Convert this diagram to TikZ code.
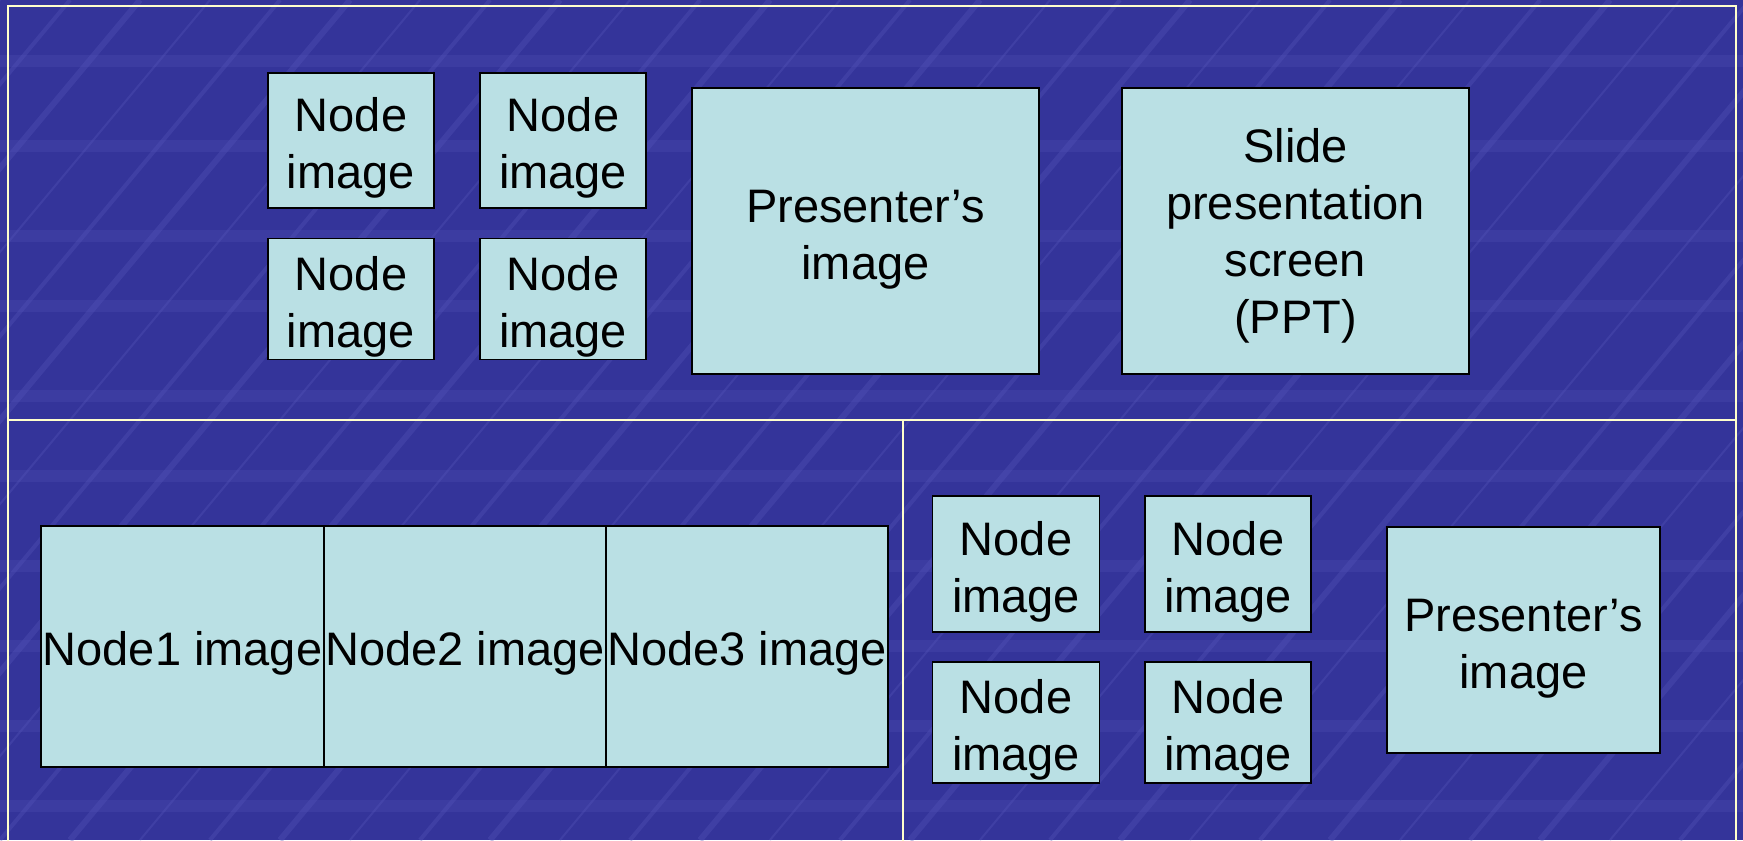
\documentclass[tikz,border=0pt]{standalone}
\usepackage{fontspec}
\setmainfont{Liberation Sans}
\definecolor{slideblue}{HTML}{34349A}
\definecolor{streak}{HTML}{5656B8}
\definecolor{boxfill}{HTML}{BAE0E4}
\definecolor{frameline}{HTML}{FFFFCC}

\begin{document}
\begin{tikzpicture}[x=0.5pt, y=-0.5pt,
    every node/.style={draw=black, line width=0.8pt, fill=boxfill, inner sep=0pt,
      align=center, font=\fontsize{23.5}{28.5}\selectfont},
    oneline/.style={text height=24pt},
    twoline/.style={text height=53pt},
    fourline/.style={text height=107pt},
    frame/.style={draw=frameline, line width=1.2pt}]
                % slide background
                \fill[slideblue] (0,0) rectangle (1743,840);
                \begin{scope}
                \clip (0,0) rectangle (1743,840);
                \foreach \i in {0,...,34} {
                  \pgfmathsetmacro\lw{1+mod(\i,3)}
                  \draw[streak, opacity=0.35, line width=\lw pt] ({\i*70-700}, 840) -- ++(700,-840);
                }
                \foreach \y in {55,140,230,300,390,470,560,640,720,800} {
                  \fill[streak, opacity=0.25] (0,\y) rectangle (1743,\y+12);
                }
                \end{scope}
                \useasboundingbox (0,0) rectangle (1743,840);
                % frame lines
                \draw[frame] (8,842) -- (8,6) -- (1736,6) -- (1736,842);
                \draw[frame] (8,420) -- (1736,420);
                \draw[frame] (903,420) -- (903,842);
                % top half
                \node[twoline, minimum width=83pt, minimum height=67.5pt] (n1) at (351,140.5) {Node\\image};
                \node[twoline, minimum width=83pt, minimum height=67.5pt] (n2) at (563,140.5) {Node\\image};
                \node[twoline, minimum width=83pt, minimum height=60.5pt] (n3) at (351,299) {Node\\image};
                \node[twoline, minimum width=83pt, minimum height=60.5pt] (n4) at (563,299) {Node\\image};
                \node[twoline, minimum width=173.5pt, minimum height=143pt] (pres) at (865.5,231) {Presenter's\\image};
                \node[fourline, minimum width=173.5pt, minimum height=143pt] (ppt) at (1295.5,231) {Slide\\presentation\\screen\\(PPT)};
                % bottom left
                \node[oneline, minimum width=141.5pt, minimum height=120.5pt] (m1) at (182.5,646.5) {Node1 image};
                \node[oneline, minimum width=141pt, minimum height=120.5pt] (m2) at (465,646.5) {Node2 image};
                \node[oneline, minimum width=141pt, minimum height=120.5pt] (m3) at (747,646.5) {Node3 image};
                % bottom right
                \node[twoline, minimum width=83.5pt, minimum height=68pt] (k1) at (1016,564) {Node\\image};
                \node[twoline, minimum width=83pt, minimum height=68pt] (k2) at (1228,564) {Node\\image};
                \node[twoline, minimum width=83.5pt, minimum height=60.5pt] (k3) at (1016,722.5) {Node\\image};
                \node[twoline, minimum width=83pt, minimum height=60.5pt] (k4) at (1228,722.5) {Node\\image};
                \node[twoline, minimum width=136.5pt, minimum height=113pt] (pres2) at (1523.5,640) {Presenter's\\image};
                \end{tikzpicture}
\end{document}
